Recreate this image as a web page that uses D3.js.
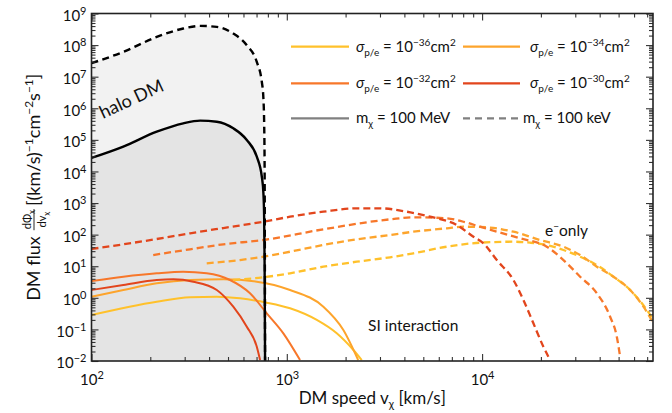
<!DOCTYPE html>
<html>
<head>
<meta charset="utf-8">
<script src="https://cdn.jsdelivr.net/npm/d3@7"></script>
<style>
  body { margin: 0; background: #fff; }
  text { font-family: Lato, "Open Sans", "DejaVu Sans", sans-serif; fill: #111; }
</style>
</head>
<body>
<svg id="chart" width="672" height="413"></svg>
<script>
// ---- axis ranges and tick labels ----
const xDomain = [100, 75000];
const yDomain = [1e-2, 1e9];
const xMajorTicks = [1e2, 1e3, 1e4];
const xTickExponents = ["2", "3", "4"];
const yMajorTicks = [1e-2, 1e-1, 1e0, 1e1, 1e2, 1e3, 1e4, 1e5, 1e6, 1e7, 1e8, 1e9];
const yTickExponents = ["−2", "−1", "0", "1", "2", "3", "4", "5", "6", "7", "8", "9"];

// ---- halo dark matter flux (km/s, flux) ----
const haloSpeed = [100, 145.5, 215.8, 295, 360, 438, 532, 624, 702, 745, 759, 766, 770, 774];
const haloFlux100MeV = [2.67e4, 6.1e4, 1.81e5, 3.34e5, 4.05e5, 3.76e5, 2.32e5, 9.9e4, 2.93e4, 6.8e3, 2.03e3, 3e2, 10, 1e-2];
const haloFlux100keV = [2.67e7, 6.1e7, 1.81e8, 3.34e8, 4.05e8, 3.76e8, 2.32e8, 9.9e7, 2.93e7, 6.8e6, 2.03e6, 3e5, 1e4, 1e-2];

// ---- spin-independent interaction, m = 100 MeV ----
const si36Speed = [100, 215.8, 319.6, 437.7, 576, 789.5, 1039, 1424, 1802, 2192, 2420];
const si36Flux  = [0.286, 0.752, 1.04, 1.08, 0.963, 0.70, 0.465, 0.199, 0.0752, 0.0223, 0.0107];
const si34Speed = [100, 145.6, 215.8, 319.6, 473, 702, 1039, 1539, 1948, 2320];
const si34Flux  = [1.08, 1.77, 2.88, 3.66, 3.85, 3.24, 1.77, 0.523, 0.0957, 0.0107];
const si32Speed = [100, 145.6, 215.8, 295, 389, 512, 648, 789.5, 960, 1169];
const si32Flux  = [3.40, 4.66, 5.97, 6.70, 5.97, 3.66, 1.39, 0.323, 0.0752, 0.0107];
const si30Speed = [100, 145.6, 215.8, 262.5, 332, 438, 532, 624, 702, 730];
const si30Flux  = [1.77, 2.54, 3.66, 3.85, 3.24, 1.77, 0.523, 0.122, 0.0283, 0.0107];

// ---- electron-only interaction, m = 100 keV ----
const e30Speed = [100, 145.6, 215.8, 319.6, 473, 758.5, 1039, 1539, 2282, 3003, 4115, 5416, 7421, 9027, 10155, 11893, 14465, 16275, 18310, 20600, 21850];
const e30Flux  = [35.1, 49.4, 72.8, 110, 162, 256, 369, 532, 682, 682, 532, 369, 202, 86, 53.2, 15.7, 3.66, 0.853, 0.156, 0.0283, 0.0137];
const e32Speed = [207, 319.6, 473, 758.5, 1539, 3380, 4448, 6596, 8022, 9768, 11893, 15653, 21440, 26090, 31760, 38680, 45250, 48950, 50890];
const e32Flux  = [22.6, 34.4, 49.4, 67.6, 147.6, 305, 354, 329, 256, 178, 124, 76.5, 41.5, 15.7, 4.66, 1.39, 0.252, 0.0587, 0.0137];
const e34Speed = [389, 576, 758.5, 1039, 1539, 2282, 3380, 4448, 6596, 8022, 10570, 14465, 19815, 26090, 31760, 38680, 47030, 57280, 67030, 75420];
const e34Flux  = [12.4, 15.7, 20.0, 28.8, 47.0, 71.1, 97.3, 123.8, 158.7, 178.2, 170.6, 123.8, 67.6, 41.5, 22.6, 9.67, 4.66, 1.77, 0.523, 0.156];
const e36Speed = [532, 758.5, 1039, 1539, 2282, 3380, 4448, 6596, 9768, 14465, 17613, 21440, 26090, 31760, 38680, 47030, 57280, 69760, 75420];
const e36Flux  = [3.66, 4.46, 5.97, 9.67, 13.9, 19.2, 25.6, 41.5, 55.6, 59.7, 55.6, 47.0, 32.6, 20.0, 10.9, 4.66, 1.77, 0.411, 0.199];

// ---- legend ----
const sigmaExponents = ["−36", "−34", "−32", "−30"];
const sigmaColors = ["#FFC12B", "#FDA42C", "#F7772A", "#E2451C"];

const svg = d3.select("#chart");
const plot = { left: 91.5, right: 653, top: 13.5, bottom: 361 };
const x = d3.scaleLog().domain(xDomain).range([plot.left, plot.right]);
const y = d3.scaleLog().domain(yDomain).range([plot.bottom, plot.top]);

svg.append("rect").attr("width", 672).attr("height", 413).attr("fill", "#fff");

svg.append("defs").append("clipPath").attr("id", "plotClip")
  .append("rect")
  .attr("x", plot.left).attr("y", plot.top)
  .attr("width", plot.right - plot.left).attr("height", plot.bottom - plot.top);

const body = svg.append("g").attr("clip-path", "url(#plotClip)");
const pairs = (s, f) => s.map((v, i) => [v, f[i]]);
const line = d3.line().x(d => x(d[0])).y(d => y(d[1])).curve(d3.curveMonotoneX);
const area = d3.area().x(d => x(d[0])).y0(plot.bottom).y1(d => y(d[1])).curve(d3.curveMonotoneX);

// shaded halo regions
body.append("path").attr("d", area(pairs(haloSpeed, haloFlux100keV))).attr("fill", "#f2f2f2");
body.append("path").attr("d", area(pairs(haloSpeed, haloFlux100MeV))).attr("fill", "#e4e4e4");

// SI curves (solid)
const siSeries = [[si36Speed, si36Flux], [si34Speed, si34Flux], [si32Speed, si32Flux], [si30Speed, si30Flux]];
siSeries.forEach(([s, f], i) => {
  body.append("path").attr("d", line(pairs(s, f)))
    .attr("fill", "none").attr("stroke", sigmaColors[i]).attr("stroke-width", 2);
});

// electron-only curves (dashed)
const eSeries = [[e36Speed, e36Flux], [e34Speed, e34Flux], [e32Speed, e32Flux], [e30Speed, e30Flux]];
eSeries.forEach(([s, f], i) => {
  body.append("path").attr("d", line(pairs(s, f)))
    .attr("fill", "none").attr("stroke", sigmaColors[i]).attr("stroke-width", 2.3)
    .attr("stroke-dasharray", "7,4");
});

// halo curves on top
body.append("path").attr("d", line(pairs(haloSpeed, haloFlux100keV)))
  .attr("fill", "none").attr("stroke", "#000").attr("stroke-width", 2.4).attr("stroke-dasharray", "7,4.5");
body.append("path").attr("d", line(pairs(haloSpeed, haloFlux100MeV)))
  .attr("fill", "none").attr("stroke", "#000").attr("stroke-width", 2.4);

// ---- axes ----
function minorTicks(domain) {
  const out = [];
  const k0 = Math.floor(Math.log10(domain[0])), k1 = Math.ceil(Math.log10(domain[1]));
  for (let k = k0; k <= k1; k++) for (let m = 2; m <= 9; m++) {
    const v = m * Math.pow(10, k);
    if (v > domain[0] && v < domain[1]) out.push(v);
  }
  return out;
}
const xMinor = minorTicks(xDomain), yMinor = minorTicks(yDomain);
const tickColor = "#333";

function drawAxis(gen, transform, values, size, labels) {
  const g = svg.append("g").attr("transform", transform)
    .call(gen.tickValues(values).tickSizeInner(-size).tickSizeOuter(0).tickPadding(labels ? labels.pad : 0)
      .tickFormat(labels ? (d => "") : ""));
  g.select(".domain").remove();
  g.selectAll(".tick line").attr("stroke", tickColor).attr("stroke-width", 1.1);
  if (!labels) g.selectAll(".tick text").remove();
  return g;
}
drawAxis(d3.axisBottom(x), `translate(0,${plot.bottom})`, xMinor, 4);
drawAxis(d3.axisTop(x), `translate(0,${plot.top})`, xMinor, 4);
drawAxis(d3.axisLeft(y), `translate(${plot.left},0)`, yMinor, 4);
drawAxis(d3.axisRight(y), `translate(${plot.right},0)`, yMinor, 4);
drawAxis(d3.axisTop(x), `translate(0,${plot.top})`, xMajorTicks, 7);
drawAxis(d3.axisRight(y), `translate(${plot.right},0)`, yMajorTicks, 7);

const xAx = drawAxis(d3.axisBottom(x), `translate(0,${plot.bottom})`, xMajorTicks, 7, { pad: 13 });
xAx.selectAll(".tick text").each(function (d, i) {
  const t = d3.select(this).attr("font-size", 15).attr("font-family", null).attr("fill", "#111");
  t.append("tspan").text("10");
  t.append("tspan").attr("dy", -6).attr("font-size", 11).text(xTickExponents[i]);
});
const yAx = drawAxis(d3.axisLeft(y), `translate(${plot.left},0)`, yMajorTicks, 7, { pad: 5 });
yAx.selectAll(".tick text").each(function (d, i) {
  const t = d3.select(this).attr("font-size", 15).attr("font-family", null).attr("fill", "#111").attr("dy", "0.45em");
  t.append("tspan").text("10");
  t.append("tspan").attr("dy", -6).attr("font-size", 11).text(yTickExponents[i]);
});

svg.append("rect")
  .attr("x", plot.left).attr("y", plot.top)
  .attr("width", plot.right - plot.left).attr("height", plot.bottom - plot.top)
  .attr("fill", "none").attr("stroke", "#222").attr("stroke-width", 1.6);

// ---- axis titles ----
const xTitle = svg.append("text").attr("x", (plot.left + plot.right) / 2).attr("y", 404)
  .attr("text-anchor", "middle").attr("font-size", 17);
xTitle.append("tspan").text("DM speed v");
xTitle.append("tspan").attr("font-size", 11).attr("dy", 4).text("χ");
xTitle.append("tspan").attr("dy", -4).text(" [km/s]");

const yTitle = svg.append("g");
let cursor = 0;
const t1 = yTitle.append("text").attr("x", 0).attr("font-size", 18).text("DM flux");
cursor += t1.node().getComputedTextLength() + 6;
const fracX = cursor;
const num = yTitle.append("text").attr("x", fracX).attr("y", -9).attr("font-size", 11);
num.append("tspan").text("dΦ");
num.append("tspan").attr("font-size", 8).attr("dy", 2.5).text("χ");
const den = yTitle.append("text").attr("x", fracX).attr("y", 6).attr("font-size", 11);
den.append("tspan").text("dv");
den.append("tspan").attr("font-size", 8).attr("dy", 2.5).text("χ");
const fracW = Math.max(num.node().getComputedTextLength(), den.node().getComputedTextLength()) + 2;
num.attr("x", fracX + (fracW - num.node().getComputedTextLength()) / 2);
den.attr("x", fracX + (fracW - den.node().getComputedTextLength()) / 2);
yTitle.append("line").attr("x1", fracX).attr("x2", fracX + fracW).attr("y1", -6).attr("y2", -6)
  .attr("stroke", "#111").attr("stroke-width", 0.9);
cursor = fracX + fracW + 3;
const t3 = yTitle.append("text").attr("x", cursor).attr("font-size", 18);
t3.append("tspan").text("[(km/s)");
t3.append("tspan").attr("dy", -7).attr("font-size", 12).text("−1");
t3.append("tspan").attr("dy", 7).text("cm");
t3.append("tspan").attr("dy", -7).attr("font-size", 12).text("−2");
t3.append("tspan").attr("dy", 7).text("s");
t3.append("tspan").attr("dy", -7).attr("font-size", 12).text("−1");
t3.append("tspan").attr("dy", 7).text("]");
const totalW = cursor + t3.node().getComputedTextLength();
yTitle.attr("transform", `translate(40,${(plot.top + plot.bottom) / 2 + totalW / 2}) rotate(-90)`);

// ---- annotations ----
svg.append("text").attr("transform", "translate(103,119) rotate(-25)").attr("font-size", 18).text("halo DM");
svg.append("text").attr("x", 368).attr("y", 331).attr("font-size", 15.5).text("SI interaction");
const eo = svg.append("text").attr("x", 545).attr("y", 236).attr("font-size", 15.5);
eo.append("tspan").text("e");
eo.append("tspan").attr("dy", -6).attr("font-size", 10).text("−");
eo.append("tspan").attr("dy", 6).text("only");

// ---- legend ----
const legendRows = [46.7, 83.3, 118.3];
const legendCols = [{ x1: 291, x2: 349, tx: 356 }, { x1: 463, x2: 520, tx: 530 }];
const legend = svg.append("g");
sigmaExponents.forEach((ex, i) => {
  const col = legendCols[i % 2], row = legendRows[Math.floor(i / 2)];
  legend.append("line").attr("x1", col.x1).attr("x2", col.x2).attr("y1", row).attr("y2", row)
    .attr("stroke", sigmaColors[i]).attr("stroke-width", 2.2);
  const t = legend.append("text").attr("x", col.tx).attr("y", row + 5).attr("font-size", 15);
  t.append("tspan").attr("font-style", "italic").text("σ");
  t.append("tspan").attr("font-size", 10).attr("dy", 4).text("p/e");
  t.append("tspan").attr("dy", -4).text(" = 10");
  t.append("tspan").attr("font-size", 10).attr("dy", -6).text(ex);
  t.append("tspan").attr("dy", 6).text("cm");
  t.append("tspan").attr("font-size", 10).attr("dy", -6).text("2");
});
const massLabels = ["100 MeV", "100 keV"];
massLabels.forEach((m, i) => {
  const col = legendCols[i], row = legendRows[2];
  legend.append("line").attr("x1", col.x1).attr("x2", col.x2).attr("y1", row).attr("y2", row)
    .attr("stroke", "#808080").attr("stroke-width", 2.2)
    .attr("stroke-dasharray", i === 1 ? "7,5" : null);
  const t = legend.append("text").attr("x", i === 0 ? col.tx : col.tx - 7).attr("y", row + 5).attr("font-size", 15);
  t.append("tspan").text("m");
  t.append("tspan").attr("font-size", 10).attr("dy", 4).text("χ");
  t.append("tspan").attr("dy", -4).text(" = " + m);
});
</script>
</body>
</html>
